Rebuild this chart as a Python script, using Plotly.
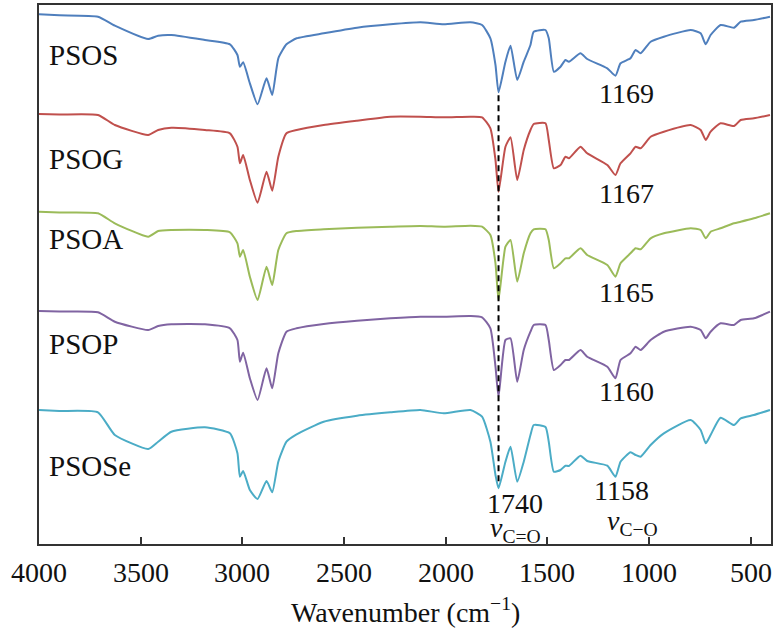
import plotly.graph_objects as go

wavenumber = [4000, 3900, 3710, 3627, 3463, 3414, 3349, 3184, 3061, 3024, 3012, 2996, 2963, 2925, 2881,
              2853, 2823, 2783, 2733, 2600, 2436, 2272, 2124, 2010, 1878, 1821, 1780, 1755, 1740, 1706,
              1681, 1648, 1616, 1583, 1567, 1509, 1493, 1468, 1435, 1411, 1394, 1337, 1304, 1205, 1165,
              1140, 1091, 1066, 1041, 992, 927, 795, 746, 721, 697, 648, 582, 549, 484, 405]

psos = [0, -1, -2.4, -11.4, -24.7, -21.4, -20.7, -25.7, -30, -40.7, -52.4, -48, -69, -90, -64,
        -80.7, -44, -30, -24, -19, -13.4, -10, -8, -10, -8, -10.7, -24, -50.7, -78, -47.4,
        -31.4, -65.7, -47.4, -30.7, -17.4, -15.7, -24, -57.4, -52.4, -45.7, -47.4, -39, -44.7, -54, -61.4,
        -49, -44, -35.7, -39, -27.4, -22.4, -15.7, -19, -30, -20.7, -10.7, -13.4, -7.4, -5.7, -2.4]

psog = [0, -0.5, -1, -11, -21, -16, -13.7, -16, -19.3, -32.7, -49.3, -41, -66, -88.7, -57.7,
        -76.7, -42.7, -19.3, -16, -11, -6.7, -2.7, -2.7, -3.3, -2.7, -3.3, -14.3, -46, -77.7, -32.7,
        -23.3, -66, -36, -16, -10, -9.3, -26, -54.3, -51, -42.7, -44.3, -32.7, -39.3, -51, -61,
        -49.3, -39.3, -32.7, -34.3, -22.7, -17.7, -11, -16, -26, -17.7, -9.3, -12, -6, -4.3, -1]

psoa = [0, -0.8, -1.6, -11.6, -25, -19.3, -18.3, -18.3, -20.6, -31.6, -45, -38.3, -65, -88.3, -55,
        -73.3, -38.3, -21.6, -19.3, -17.6, -16, -15, -14.3, -15, -14, -15, -23.3, -51.6, -88.3, -35,
        -28.3, -70, -41.6, -21.6, -17.6, -17.6, -28.3, -56.6, -51.6, -46.6, -46.6, -36.6, -43.3, -53.3, -65,
        -51.6, -41.6, -36.6, -37.6, -26.6, -21.6, -16.6, -18.3, -26.6, -20, -16.6, -11.6, -10, -6.6, -1.6]

psop = [0, -0.6, -1.3, -10.7, -19, -15, -13.3, -13.3, -17.3, -29, -50.7, -41.7, -67.3, -89, -57.3,
        -77.3, -42.3, -20.7, -17.3, -13, -9.7, -7.3, -5.7, -5.7, -5, -6.3, -17.3, -55.7, -85.7, -29,
        -27.3, -70.7, -39, -20.7, -14, -14, -29, -59, -54, -49, -49, -39, -45.7, -55.7, -67.3,
        -49, -42.3, -35.7, -39, -29, -20.7, -15.7, -19, -27.3, -20.7, -12.3, -14, -9, -7.3, -0.7]

psose = [0, -1, -2.3, -25, -39, -31.7, -21.7, -17.3, -23.3, -43.3, -66.7, -61, -80, -89, -71,
         -82.3, -51.7, -31.7, -24.3, -11.7, -5.7, -2.3, 0, -3.3, 0, -6.7, -31.7, -65, -78.3, -51.7,
         -36.7, -71.7, -51.7, -25, -15, -17, -31.7, -61.7, -60, -55.7, -56, -45.7, -51, -55.7, -66.7,
         -51.7, -42.3, -45, -46.7, -35, -23.3, -10, -20, -33.3, -25, -7.7, -15, -8.3, -5, 0]

names = ["PSOS", "PSOG", "PSOA", "PSOP", "PSOSe"]
series = [psos, psog, psoa, psop, psose]
peak_labels = ["1169", "1167", "1165", "1160", "1158"]
x_ticks = [4000, 3500, 3000, 2500, 2000, 1500, 1000, 500]
x_title = "Wavenumber (cm<sup>−1</sup>)"

offsets = [529.7, 430, 332.3, 233, 134]
colors = ["#4F7FBD", "#C0504D", "#9BBB59", "#8064A2", "#4BACC6"]

FONT = "Times New Roman, Liberation Serif, serif"
TXT = "#111"

fig = go.Figure()
for name, vals, off, col in zip(names, series, offsets, colors):
    fig.add_trace(go.Scatter(x=wavenumber, y=[v + off for v in vals], mode="lines",
                             line=dict(color=col, width=2, shape="spline", smoothing=0.5),
                             name=name, showlegend=False, hoverinfo="skip"))

# dashed line at C=O band from top trough to bottom trough
i1740 = wavenumber.index(1740)
fig.add_trace(go.Scatter(x=[1740, 1740],
                         y=[offsets[0] + psos[i1740] - 3, offsets[-1] + psose[i1740] + 4],
                         mode="lines", line=dict(color="black", width=2, dash="6px,4px"),
                         showlegend=False, hoverinfo="skip"))

label_y = [489, 385, 305, 200, 78]
for name, ly in zip(names, label_y):
    fig.add_annotation(x=3961, y=ly, text=name, showarrow=False, xanchor="left",
                       yanchor="middle", font=dict(size=29, color=TXT, family=FONT))

peak_pos = [(1112, 451), (1112, 351), (1112, 251.5), (1112, 153), (1137, 54)]
for txt, (px, py) in zip(peak_labels, peak_pos):
    fig.add_annotation(x=px, y=py, text=txt, showarrow=False, xanchor="center",
                       yanchor="middle", font=dict(size=28, color=TXT, family=FONT))

fig.add_annotation(x=1657, y=41, text="1740", showarrow=False, xanchor="center",
                   yanchor="middle", font=dict(size=28, color=TXT, family=FONT))
fig.add_annotation(x=1655, y=15, text="<i>v</i><sub>C=O</sub>", showarrow=False,
                   xanchor="center", yanchor="middle",
                   font=dict(size=28, color=TXT, family=FONT))
fig.add_annotation(x=1080, y=22, text="<i>v</i><sub>C−O</sub>", showarrow=False,
                   xanchor="center", yanchor="middle",
                   font=dict(size=28, color=TXT, family=FONT))

# x tick labels (serif) placed at the axis tick values
for t in x_ticks:
    fig.add_annotation(x=t, xref="x", y=-0.052, yref="paper", text=str(t), showarrow=False,
                       xanchor="center", yanchor="middle",
                       font=dict(size=28, color=TXT, family=FONT))
# x axis title
fig.add_annotation(x=0.5, xref="paper", y=-0.124, yref="paper", text=x_title, showarrow=False,
                   xanchor="center", yanchor="middle", font=dict(size=28, color=TXT, family=FONT))

fig.update_layout(
    width=779, height=629,
    margin=dict(l=39, r=8, t=5, b=85, autoexpand=False),
    paper_bgcolor="white", plot_bgcolor="white",
    font=dict(family=FONT, color=TXT),
    xaxis=dict(range=[4000, 400], tickvals=x_ticks, showticklabels=False,
               ticks="inside", ticklen=7, tickwidth=1.5, tickcolor="#333", automargin=False,
               showline=True, linecolor="#333", linewidth=1.5, mirror=True,
               showgrid=False, zeroline=False),
    yaxis=dict(range=[0, 539], showticklabels=False, ticks="", showline=True, automargin=False,
               linecolor="#333", linewidth=1.5, mirror=True, showgrid=False, zeroline=False),
)

fig.write_html("out.html", config={"displayModeBar": False},
               post_script="document.body.style.margin='0';")
